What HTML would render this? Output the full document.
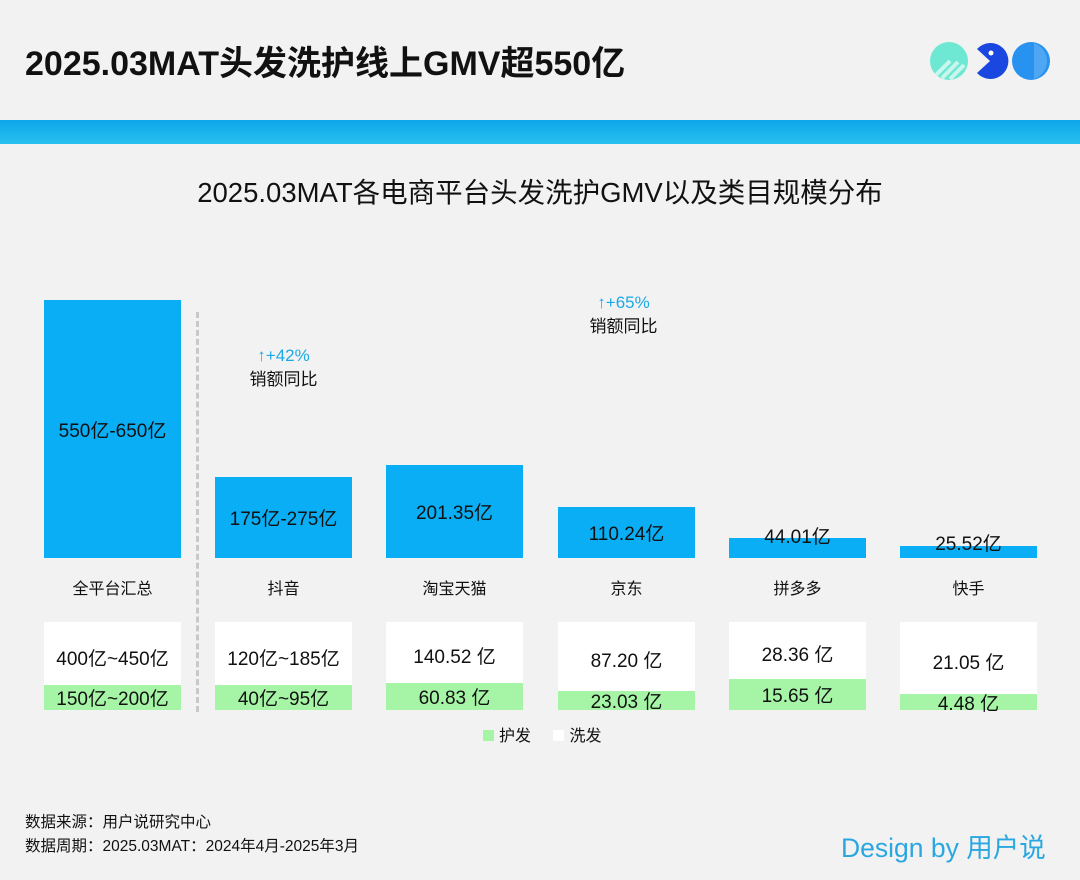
<html><head><style>
body{margin:0;width:1080px;height:880px;background:#f2f2f2;font-family:"Liberation Sans","Noto Sans CJK SC",sans-serif;position:relative;overflow:hidden;color:#111}
.a{position:absolute}
.bar{position:absolute;background:#0aaef5;display:flex;align-items:center;justify-content:center;font-size:19px;color:#111}
.lab{position:absolute;width:137px;text-align:center;font-size:16px;top:575px}
.w{position:absolute;background:#fff;width:137px;top:622px;height:88px}
.g{position:absolute;background:#a6f5a6;width:137px;bottom:0;left:0;display:flex;align-items:center;justify-content:center;font-size:19px}
.wt{position:absolute;width:137px;text-align:center;font-size:19px;left:0}
.up{position:absolute;text-align:center;font-size:17px;width:137px;line-height:24px}
.up span{color:#1aa9e6}
</style></head><body>
<div class="a" style="left:25px;top:36px;font-size:34px;font-weight:bold;white-space:nowrap">2025.03MAT头发洗护线上GMV超550亿</div>
<svg class="a" style="left:928px;top:40px" width="124" height="42">
<circle cx="21" cy="21" r="19" fill="#6ee8d2"/>
<path d="M8 35 L22 21 M14 38 L30 22 M22 39 L36 25" stroke="#c9f7ee" stroke-width="4"/>
<path d="M62 21 L49 9 A18 18 0 1 1 49 33 Z" fill="#1a47e0"/>
<circle cx="63" cy="13" r="2.5" fill="#fff"/>
<circle cx="103" cy="21" r="19" fill="#2792f0"/>
<path d="M106 3 A19 19 0 0 1 106 39 Z" fill="#6bb4f5" opacity="0.6"/>
</svg>
<div class="a" style="left:0;top:120px;width:1080px;height:24px;background:linear-gradient(#0ea6ea,#27c0ef)"></div>
<div class="a" style="left:0;top:170px;width:1080px;text-align:center;font-size:27.5px;white-space:nowrap">2025.03MAT各电商平台头发洗护GMV以及类目规模分布</div>
<div class="a" style="left:196px;top:312px;height:400px;border-left:3px dashed #c8c8c8"></div>

<div class="bar" style="left:44px;width:137px;top:300px;height:258px">550亿-650亿</div>
<div class="bar" style="left:215px;width:137px;top:477px;height:81px">175亿-275亿</div>
<div class="bar" style="left:386px;width:137px;top:465px;height:93px">201.35亿</div>
<div class="bar" style="left:558px;width:137px;top:507px;height:51px">110.24亿</div>
<div class="bar" style="left:729px;width:137px;top:538px;height:20px"><span style="position:relative;top:-13px">44.01亿</span></div>
<div class="bar" style="left:900px;width:137px;top:546px;height:12px"><span style="position:relative;top:-10px">25.52亿</span></div>

<div class="up" style="left:215px;top:344px"><span>↑+42%</span><br>销额同比</div>
<div class="up" style="left:555px;top:291px"><span>↑+65%</span><br>销额同比</div>

<div class="lab" style="left:44px">全平台汇总</div>
<div class="lab" style="left:215px">抖音</div>
<div class="lab" style="left:386px">淘宝天猫</div>
<div class="lab" style="left:558px">京东</div>
<div class="lab" style="left:729px">拼多多</div>
<div class="lab" style="left:900px">快手</div>

<div class="w" style="left:44px"><div class="wt" style="top:22px">400亿~450亿</div><div class="g" style="height:25px">150亿~200亿</div></div>
<div class="w" style="left:215px"><div class="wt" style="top:22px">120亿~185亿</div><div class="g" style="height:25px">40亿~95亿</div></div>
<div class="w" style="left:386px"><div class="wt" style="top:20px">140.52 亿</div><div class="g" style="height:27px">60.83 亿</div></div>
<div class="w" style="left:558px"><div class="wt" style="top:24px">87.20 亿</div><div class="g" style="height:19px">23.03 亿</div></div>
<div class="w" style="left:729px"><div class="wt" style="top:18px">28.36 亿</div><div class="g" style="height:31px">15.65 亿</div></div>
<div class="w" style="left:900px"><div class="wt" style="top:26px">21.05 亿</div><div class="g" style="height:16px">4.48 亿</div></div>

<div class="a" style="left:483px;top:722px;font-size:16px"><span style="display:inline-block;width:11px;height:11px;background:#a6f5a6;margin-right:5px"></span>护发 <span style="display:inline-block;width:11px;height:11px;background:#fff;margin:0 5px 0 18px"></span>洗发</div>

<div class="a" style="left:25px;top:811px;font-size:15.5px;line-height:24px;white-space:nowrap">数据来源：用户说研究中心<br>数据周期：2025.03MAT：2024年4月-2025年3月</div>
<div class="a" style="left:841px;top:826px;font-size:26.5px;color:#2aa7e0;white-space:nowrap">Design by 用户说</div>
</body></html>
